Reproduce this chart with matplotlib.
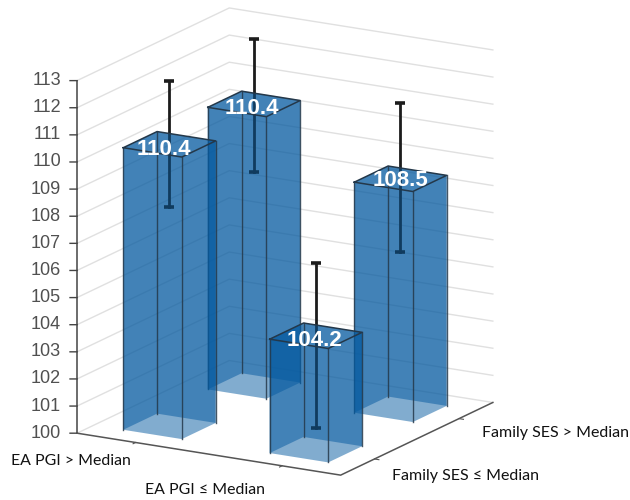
import matplotlib
matplotlib.use('Agg')
import matplotlib.pyplot as plt
from mpl_toolkits.mplot3d import proj3d
from mpl_toolkits.mplot3d.art3d import Poly3DCollection

# draw order is back to front, so the see-through faces layer correctly
bar_x = [1, 2, 1, 2]
bar_y = [2, 2, 1, 1]
bar_means = [110.4, 108.5, 110.4, 104.2]
err_low = [107.9, 105.8, 108.1, 100.8]
err_high = [112.8, 111.3, 112.75, 106.9]
bar_labels = ['110.4', '108.5', '110.4', '104.2']
z_ticks = list(range(100, 114))
x_labels = ['EA PGI > Median', 'EA PGI \u2264 Median']
y_labels = ['Family SES \u2264 Median', 'Family SES > Median']

BLUE = '#055AA0'
EDGE = '#24384a'
BAR_W = 0.4
XMIN, XMAX = 0.6, 2.4
ZMIN, ZMAX = 100, 113

# pixels to shift each value label from the middle of its bar top
label_nudge = [(-2, -5), (0, -2), (-6, -5), (-1, -5)]


def bar_corners(x, y):
    x0, x1 = x - BAR_W / 2, x + BAR_W / 2
    y0, y1 = y - BAR_W / 2, y + BAR_W / 2
    return [(x0, y0), (x1, y0), (x1, y1), (x0, y1)]


def side_face(a, b, top):
    return [(a[0], a[1], ZMIN), (b[0], b[1], ZMIN), (b[0], b[1], top), (a[0], a[1], top)]


def add_faces(faces, zorder):
    poly = Poly3DCollection(faces, facecolors=BLUE, edgecolors='none', alpha=0.5)
    poly.set_zorder(zorder)
    ax.add_collection3d(poly)


def text_at(x, y, z, label, **kwargs):
    # project by hand so the text sits in the 2d view of the axes
    px, py, _ = proj3d.proj_transform(x, y, z, ax.get_proj())
    dx, dy = kwargs.pop('nudge', (0, 0))
    ax.annotate(label, (px, py), xycoords='data', xytext=(dx * 0.72, dy * 0.72),
                textcoords='offset points', annotation_clip=False, **kwargs)


fig = plt.figure(figsize=(6.3, 5), dpi=100)
ax = fig.add_axes([28.2 / 630, 1.7 / 500, 500 / 630, 1.0], projection='3d', computed_zorder=False)
ax.set_proj_type('ortho')
ax.view_init(elev=16, azim=-60)
ax.set_box_aspect((1, 1, 1.205), zoom=1.098)
ax.set_axis_off()
ax.set_xlim(XMIN, XMAX, view_margin=0)
ax.set_ylim(XMIN, XMAX, view_margin=0)
ax.set_zlim(ZMIN, ZMAX, view_margin=0)

# back walls
for z in z_ticks:
    ax.plot([XMIN, XMIN, XMAX], [XMIN, XMAX, XMAX], [z, z, z], color='#e0e0e0', lw=1, zorder=1)
    ax.plot([XMIN - 0.036, XMIN], [XMIN - 0.021, XMIN], [z, z], color='#444444', lw=1, zorder=2)
    text_at(XMIN, XMIN, z, str(z), nudge=(-16, 0), ha='right', va='center', fontsize=13,
            family='Liberation Sans', color='#505050', zorder=30)

# axis lines
ax.plot([XMIN, XMIN], [XMIN, XMIN], [ZMIN, ZMAX], color='#444444', lw=1.1, zorder=2)
ax.plot([XMIN, XMAX, XMAX], [XMIN, XMIN, XMAX], [ZMIN, ZMIN, ZMIN], color='#555555', lw=1.1, zorder=2)
for t in [1, 2]:
    ax.plot([t, t], [XMIN, XMIN - 0.03], [ZMIN, ZMIN], color='#555555', lw=0.8, zorder=2)
    ax.plot([XMAX, XMAX + 0.03], [t, t], [ZMIN, ZMIN], color='#555555', lw=0.8, zorder=2)

for i in range(len(bar_means)):
    base = 3 + i * 4
    top = bar_means[i]
    corners = bar_corners(bar_x[i], bar_y[i])
    c0, c1, c2, c3 = corners

    # back faces go under the error bar, the rest over it
    add_faces([side_face(c2, c3, top), side_face(c3, c0, top)], base)
    ax.plot([bar_x[i], bar_x[i]], [bar_y[i], bar_y[i]], [err_low[i], err_high[i]],
            color='#1c1c1c', lw=2, zorder=base + 1)
    ax.plot([bar_x[i], bar_x[i]], [bar_y[i], bar_y[i]], [err_low[i], err_high[i]], ls='none',
            marker='_', ms=6.5, mew=2.6, color='#1c1c1c', zorder=base + 1)
    add_faces([[(cx, cy, top) for cx, cy in corners], side_face(c0, c1, top), side_face(c1, c2, top)], base + 2)

    xs = [c[0] for c in corners]
    ys = [c[1] for c in corners]
    ax.plot(xs + xs[:1], ys + ys[:1], [top] * 5, color=EDGE, lw=1.1, zorder=base + 3)
    for cx, cy in corners:
        ax.plot([cx, cx], [cy, cy], [ZMIN, top], color=EDGE, lw=1, alpha=0.85, zorder=base + 3)

    text_at(bar_x[i], bar_y[i], top, bar_labels[i], nudge=label_nudge[i], ha='center', va='center',
            fontsize=16, family='Liberation Sans', fontweight='bold', color='white', zorder=40)

fig.text(71 / 630, 1 - 461 / 500, x_labels[0], ha='center', va='center', fontsize=11.4, family='Lato', color='#111111')
fig.text(205 / 630, 1 - 490 / 500, x_labels[1], ha='center', va='center', fontsize=11.4, family='Lato', color='#111111')
fig.text(466 / 630, 1 - 476 / 500, y_labels[0], ha='center', va='center', fontsize=11.5, family='Lato', color='#111111')
fig.text(555 / 630, 1 - 433 / 500, y_labels[1], ha='center', va='center', fontsize=11.5, family='Lato', color='#111111')

fig.savefig('out.png', dpi=100)
